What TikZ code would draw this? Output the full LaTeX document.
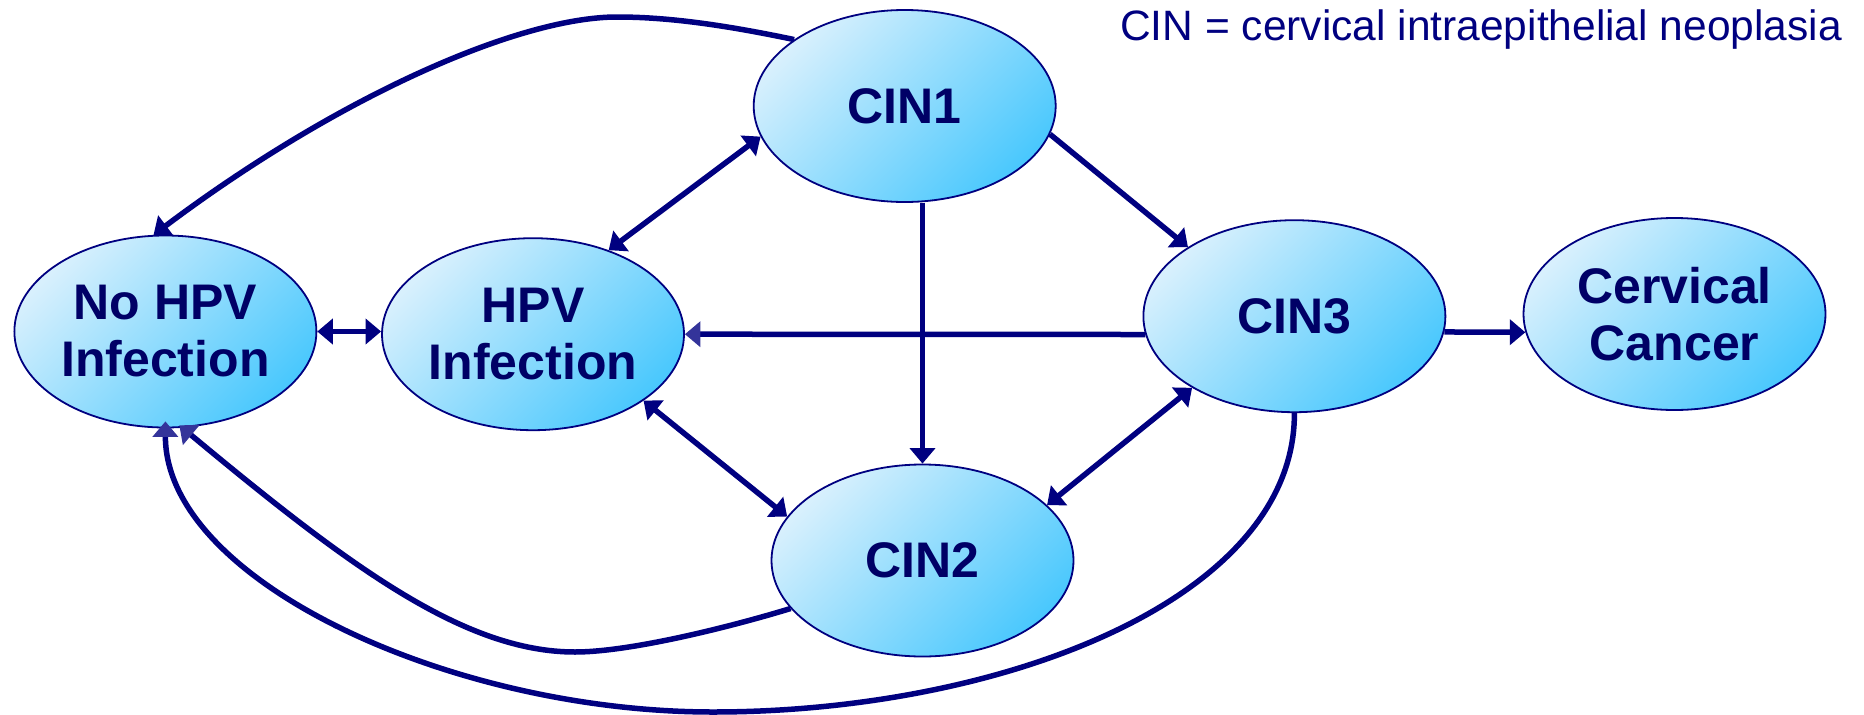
\documentclass[tikz,border=0pt]{standalone}
\usepackage{fontspec}
\setmainfont{Liberation Sans}
\usetikzlibrary{shapes.geometric,arrows.meta}

\definecolor{linenavy}{RGB}{0,0,128}
\definecolor{textnavy}{RGB}{0,0,102}
\definecolor{tipblue}{RGB}{52,52,154}
\definecolor{filllight}{RGB}{216,240,253}
\definecolor{filldark}{RGB}{74,200,253}

\tikzset{
  state/.style={ellipse, draw=linenavy, line width=1.8pt,
    top color=filllight, bottom color=filldark, shading angle=45,
    minimum width=302pt, minimum height=192pt, inner sep=0pt,
    align=center, text=textnavy,
    font=\fontsize{50}{57}\selectfont\bfseries},
  link/.style={draw=linenavy, line width=5.5pt,
    -{Triangle[length=15.5pt,width=25pt]}},
  both/.style={link, {Triangle[length=15.5pt,width=25pt]}-{Triangle[length=15.5pt,width=25pt]}},
  tiplight/.style={-{Triangle[length=15.5pt,width=25pt,color=tipblue]}},
}

\begin{document}
\begin{tikzpicture}[x=1pt,y=-1pt]
\useasboundingbox (0,0) rectangle (1864,715);

% states
\node[state] (noh)  at (165.4,331.5) {No HPV\\Infection};
\node[state] (hpv)  at (533,334.2)   {HPV\\Infection};
\node[state] (cin1) at (904.7,106)   {CIN1};
\node[state] (cin3) at (1294.4,316.2) {CIN3};
\node[state] (cc)   at (1674.5,314)  {Cervical\\Cancer};
\node[state] (cin2) at (922.5,560.5) {CIN2};

% legend
\node[anchor=base west, inner sep=0pt, text=linenavy,
      font=\fontsize{42.5}{48}\selectfont] (legend) at (1120,40.7)
      {CIN = cervical intraepithelial neoplasia};

% transitions
\draw[link] (cin1.149) .. controls (720,24) and (665,17) .. (617,17)
            .. controls (520,17) and (340,95) .. (noh.97);
\draw[both] (hpv.48) -- (cin1.192);
\draw[both] (noh.east) -- (noh.east -| hpv.west);
\draw[link, tiplight] (cin3.187) -- (hpv.east);
\draw[link] (cin2.north |- cin1.south) -- (cin2.north);
\draw[link] (cin1.-11) -- (cin3.147);
\draw[link] (cin3.-6) -- (cc.187);
\draw[both] (cin3.215) -- (cin2.24);
\draw[both] (hpv.-31) -- (cin2.162);
\draw[link, tiplight, shorten >=-4pt] (cin2.200)
            .. controls (730,627) and (630,652) .. (575,652)
            .. controls (465,652) and (351,568) .. (noh.-80);
\draw[link, tiplight, shorten >=-7pt] (cin3.south)
            .. controls (1295,600) and (1000,712) .. (713,712)
            .. controls (450,712) and (165,580) .. (noh.south);
\end{tikzpicture}
\end{document}
